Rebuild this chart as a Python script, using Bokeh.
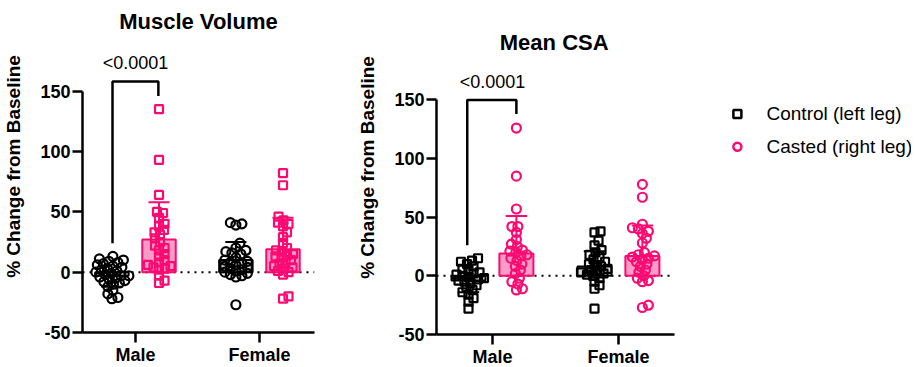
import numpy as np
from bokeh.plotting import figure
from bokeh.layouts import row
from bokeh.models import FixedTicker, Label
from bokeh.core.properties import value
from bokeh.embed import file_html
from bokeh.resources import INLINE

FONT = "Liberation Sans"
PINK = "#FA0A72"
BLACK = "#000000"

categories = ["Male", "Female"]
series_names = ["Control (left leg)", "Casted (right leg)"]
y_ticks = [-50, 0, 50, 100, 150]
y_tick_labels = ["-50", "0", "50", "100", "150"]

# ---- Muscle Volume (% change from baseline) ----
mv_male_control = [13, 11, 10, 9, 8, 7, 6, 5, 4, 3, 2, 1, 0, -1, -2, -3, -3, -4, -5, -6,
                   -7, -8, -9, -10, -12, -15, -18, -21, -22]
mv_male_casted = [135, 93, 64, 50, 49, 45, 40, 38, 35, 33, 31, 28, 25, 22, 20, 18, 15, 13,
                  10, 8, 6, 5, 4, 3, 2, -3, -7, -9]
mv_female_control = [41, 40, 39, 24, 20, 18, 17, 16, 15, 12, 10, 9, 8, 7, 6, 5, 4, 3, 2, 1,
                     0, -1, -2, -3, -4, -27]
mv_female_casted = [82, 72, 46, 43, 41, 40, 38, 33, 29, 24, 20, 18, 17, 15, 14, 13, 12, 10,
                    8, 7, 5, 4, 3, 1, 0, -2, -20, -22]
mv_means = [-3, 27, 10, 19]      # male control, male casted, female control, female casted
mv_sds = [9, 31, 15, 26]
mv_pvalue = "<0.0001"

# ---- Mean CSA (% change from baseline) ----
csa_male_control = [15, 13, 12, 10, 8, 6, 5, 3, 2, 1, 0, -1, -2, -3, -4, -5, -6, -8, -10,
                    -12, -14, -16, -19, -22, -28]
csa_male_casted = [126, 85, 57, 42, 42, 37, 31, 27, 25, 22, 21, 20, 18, 17, 15, 13, 10, 8,
                   5, 2, -2, -5, -7, -11, -12]
csa_female_control = [38, 37, 30, 26, 22, 20, 18, 16, 14, 12, 10, 9, 8, 6, 5, 4, 3, 2, 1, 0,
                      -2, -5, -8, -11, -28]
csa_female_casted = [78, 67, 44, 41, 40, 38, 36, 32, 28, 20, 18, 17, 16, 15, 14, 12, 10, 8,
                     5, 3, 0, -2, -4, -5, -25, -27]
csa_means = [-4, 19, 8, 17]
csa_sds = [10, 32, 13, 26]
csa_pvalue = "<0.0001"


def beeswarm(vals, sx, sy, d=6.0):
    vals = np.asarray(vals, float)
    order = np.argsort(vals)
    placed = []
    offs = np.zeros(len(vals))
    for i in order:
        y = vals[i] * sy
        best = None
        k = 0
        while best is None:
            cands = [0.0] if k == 0 else [k * 0.5, -k * 0.5]
            for s in cands:
                if all((s - px) ** 2 + (y - py) ** 2 >= d * d for px, py in placed):
                    best = s
                    break
            k += 1
        placed.append((best, y))
        offs[i] = best / sx
    return offs


def panel(title, groups, means, sds, pval, markers, x_range, y_range, frame_w, frame_h,
          mb_left, mb_right, title_pos, p_pos, bracket, sx, sy):
    p = figure(frame_width=frame_w, frame_height=frame_h, x_range=x_range, y_range=y_range,
               output_backend="svg", toolbar_location=None,
               min_border_left=mb_left, min_border_right=mb_right,
               min_border_top=0, min_border_bottom=0)
    p.outline_line_color = None
    p.grid.visible = False
    p.background_fill_color = "white"
    p.border_fill_color = "white"

    offset = 0.19
    xs = [1 - offset, 1 + offset, 2 - offset, 2 + offset]
    colors = [BLACK, PINK, BLACK, PINK]
    mk = [markers[0], markers[1], markers[0], markers[1]]

    # zero reference line
    p.line(x=[x_range[0], 2.444], y=[0, 0], line_color=BLACK, line_width=2,
           line_dash="2 5")

    # mean bars
    p.vbar(x=xs, top=means, bottom=0, width=0.27,
           fill_color=colors, fill_alpha=[0.15, 0.4, 0.15, 0.4],
           line_color=colors, line_width=2)

    # points
    for g, xc, c, m in zip(groups, xs, colors, mk):
        offs = beeswarm(g, sx, sy)
        p.scatter(x=xc + offs, y=g, marker=m, size=8 if m == "square" else 9,
                  fill_color=None, line_color=c, line_width=2.2)

    # SD error bars (away from zero)
    tops = [mu + (sd if mu >= 0 else -sd) for mu, sd in zip(means, sds)]
    p.segment(x0=xs, y0=means, x1=xs, y1=tops, line_color=colors, line_width=2)
    p.segment(x0=[x - 0.085 for x in xs], y0=tops, x1=[x + 0.085 for x in xs], y1=tops,
              line_color=colors, line_width=2)

    # significance bracket
    bx0, bx1, btop, bl, br = bracket
    p.line(x=[bx0, bx0, bx1, bx1], y=[bl, btop, btop, br], line_color=BLACK, line_width=2.5)
    p.add_layout(Label(x=p_pos[0], y=p_pos[1], text=pval, text_align="center",
                       text_baseline="middle", text_font=FONT, text_font_size="18px",
                       text_color=BLACK))
    p.add_layout(Label(x=title_pos[0], y=title_pos[1], text=title, text_align="center",
                       text_baseline="middle", text_font=FONT, text_font_size="22px",
                       text_font_style="bold", text_color=BLACK))

    # axes
    p.xaxis.ticker = FixedTicker(ticks=[1, 2])
    p.xaxis.major_label_overrides = {1: categories[0], 2: categories[1]}
    p.xaxis.bounds = (x_range[0], 2.444)
    p.yaxis.ticker = FixedTicker(ticks=y_ticks)
    p.yaxis.major_label_overrides = dict(zip(y_ticks, y_tick_labels))
    p.yaxis.bounds = (-50, 150)
    p.yaxis.axis_label = "% Change from Baseline"
    p.yaxis.axis_label_standoff = 13
    p.yaxis.axis_label_text_font = FONT
    p.yaxis.axis_label_text_font_size = "19px"
    p.yaxis.axis_label_text_font_style = "bold"
    p.yaxis.axis_label_text_color = BLACK
    for ax in (p.xaxis, p.yaxis):
        ax.axis_line_width = 2.5
        ax.axis_line_color = BLACK
        ax.major_tick_line_width = 2.5
        ax.major_tick_line_color = BLACK
        ax.major_tick_in = 0
        ax.minor_tick_line_color = None
        ax.major_label_text_font = FONT
        ax.major_label_text_font_size = "18px"
        ax.major_label_text_font_style = "bold"
        ax.major_label_text_color = BLACK
    p.yaxis.major_tick_out = 10
    p.yaxis.major_label_standoff = 2
    p.xaxis.major_tick_out = 10
    p.xaxis.major_label_standoff = 2
    return p


# Panel 1: Muscle Volume (control = circles, casted = squares)
sx1 = 232 / (2.444 - 0.573)
sy1 = 1.207
p1 = panel("Muscle Volume",
           [mv_male_control, mv_male_casted, mv_female_control, mv_female_casted],
           mv_means, mv_sds, mv_pvalue, ("circle", "square"),
           (0.573, 2.444), (-50, -50 + 332 / sy1), 232, 332, 73, 40,
           (1.508, 208), (1.0, 173), (0.815, 1.185, 158, 24, 146), sx1, sy1)

# Panel 2: Mean CSA (control = squares, casted = circles)
sx2 = 126.0
sy2 = 1.173
x2_end = 0.556 + 475 / sx2
p2 = panel("Mean CSA",
           [csa_male_control, csa_male_casted, csa_female_control, csa_female_casted],
           csa_means, csa_sds, csa_pvalue, ("square", "circle"),
           (0.556, x2_end), (-50, -50 + 334 / sy2), 475, 334, 79, 0,
           (1.49, 199), (1.0, 165), (0.80, 1.19, 150, 26, 138), sx2, sy2)
p2.xaxis.bounds = (0.556, 2.444)

# Legend (manual, in the right panel)
leg_x = 2.944
leg_tx = 3.175
leg_y = [138, 110]
p2.scatter(x=[leg_x], y=[leg_y[0]], marker="square", size=8, fill_color=None,
           line_color=BLACK, line_width=2.5)
p2.scatter(x=[leg_x], y=[leg_y[1]], marker="circle", size=8, fill_color=None,
           line_color=PINK, line_width=2.5)
for name, yy in zip(series_names, leg_y):
    p2.add_layout(Label(x=leg_tx, y=yy, text=name, text_align="left", text_baseline="middle",
                        text_font=FONT, text_font_size="19px", text_color=BLACK))

layout = row(p1, p2)
open("out.html", "w").write(file_html(layout, INLINE))
